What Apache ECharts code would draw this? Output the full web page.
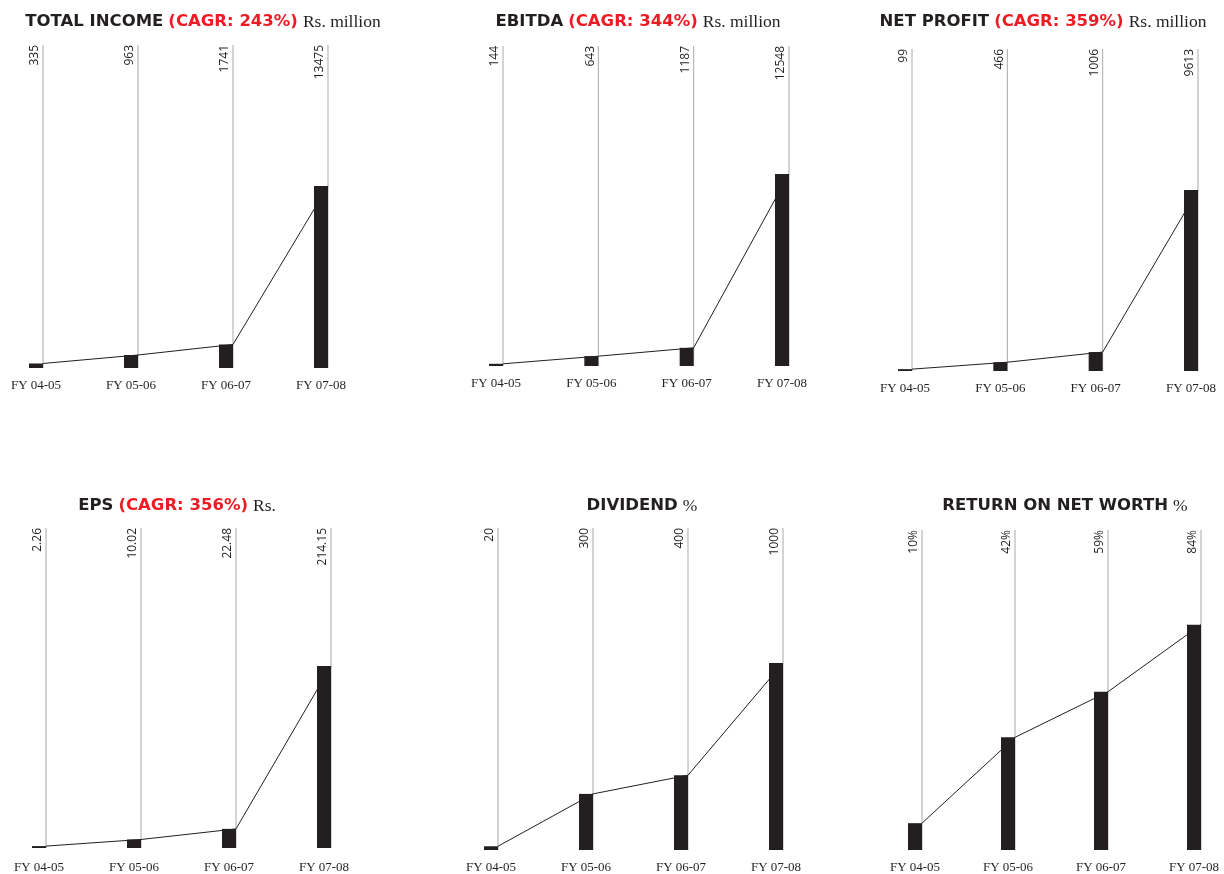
<!DOCTYPE html>
<html>
<head>
<meta charset="utf-8">
<script src="https://cdn.jsdelivr.net/npm/echarts@6/dist/echarts.min.js"></script>
<style>
html,body{margin:0;padding:0;background:#fff;}
#c{width:1224px;height:874px;}
</style>
</head>
<body>
<div id="c"></div>
<script>
// ---- data ----
const categories = ['FY 04-05', 'FY 05-06', 'FY 06-07', 'FY 07-08'];
const totalIncome = [335, 963, 1741, 13475];
const ebitda = [144, 643, 1187, 12548];
const netProfit = [99, 466, 1006, 9613];
const eps = [2.26, 10.02, 22.48, 214.15];
const dividend = [20, 300, 400, 1000];
const returnOnNetWorth = [10, 42, 59, 84];

const totalIncomeLabels = ['335', '963', '1741', '13475'];
const ebitdaLabels = ['144', '643', '1187', '12548'];
const netProfitLabels = ['99', '466', '1006', '9613'];
const epsLabels = ['2.26', '10.02', '22.48', '214.15'];
const dividendLabels = ['20', '300', '400', '1000'];
const returnOnNetWorthLabels = ['10%', '42%', '59%', '84%'];

const titleNames = ['TOTAL INCOME', 'EBITDA', 'NET PROFIT', 'EPS', 'DIVIDEND', 'RETURN ON NET WORTH'];
const titleCagr = ['(CAGR: 243%)', '(CAGR: 344%)', '(CAGR: 359%)', '(CAGR: 356%)', '', ''];
const titleUnits = ['Rs. million', 'Rs. million', 'Rs. million', 'Rs.', '%', '%'];

// ---- layout (positions / scale maxima) ----
const panels = [
  {values: totalIncome, labels: totalIncomeLabels, left: 43, top: 45, width: 285, height: 323, max: 23915, tx: 198, ty: 8, lm: 11},
  {values: ebitda, labels: ebitdaLabels, left: 503, top: 46, width: 286, height: 320, max: 20913, tx: 633, ty: 8, lm: 11},
  {values: netProfit, labels: netProfitLabels, left: 912, top: 49, width: 286, height: 322, max: 17100, tx: 1038, ty: 8, lm: 11},
  {values: eps, labels: epsLabels, left: 46, top: 528, width: 285, height: 320, max: 376.5, tx: 172, ty: 492, lm: 13},
  {values: dividend, labels: dividendLabels, left: 498, top: 528, width: 285, height: 322, max: 1722, tx: 637, ty: 492, lm: 11},
  {values: returnOnNetWorth, labels: returnOnNetWorthLabels, left: 922, top: 530, width: 279, height: 321, max: 119.3, tx: 1060, ty: 492, lm: 11}
];

const INK = '#231f20';
const RED = '#ed1c24';
const BAR_W = 14;

const option = {
  animation: false,
  backgroundColor: '#ffffff',
  title: [], grid: [], xAxis: [], yAxis: [], series: []
};

panels.forEach((p, k) => {
  const parts = ['{a|' + titleNames[k] + '}'];
  if (titleCagr[k]) parts.push('{b|' + titleCagr[k] + '}');
  parts.push('{c|' + titleUnits[k] + '}');
  option.title.push({
    text: parts.join(' '),
    left: p.tx, top: p.ty, textAlign: 'center',
    textStyle: {
      rich: {
        a: {fontFamily: 'DejaVu Sans', fontWeight: 'bold', fontSize: 16.5, color: INK},
        b: {fontFamily: 'DejaVu Sans', fontWeight: 'bold', fontSize: 16.5, color: RED},
        c: {fontFamily: 'Liberation Serif', fontWeight: 'normal', fontSize: 17.5, color: INK}
      }
    }
  });
  option.grid.push({left: p.left, top: p.top, width: p.width, height: p.height, containLabel: false});
  option.xAxis.push({
    type: 'category', gridIndex: k, data: categories, boundaryGap: false,
    axisLine: {show: false}, axisTick: {show: false}, splitLine: {show: false},
    axisLabel: {
      margin: p.lm, fontFamily: 'Liberation Serif', fontSize: 13, color: INK,
      padding: [0, BAR_W, 0, 0], interval: 0
    }
  });
  option.yAxis.push({type: 'value', gridIndex: k, min: 0, max: p.max, show: false});

  // gray guide lines with rotated value labels
  option.series.push({
    type: 'custom', xAxisIndex: k, yAxisIndex: k, z: 1, silent: true,
    data: p.values.map((v, i) => [i, v]),
    renderItem: function (params, api) {
      const base = api.coord([api.value(0), 0]);
      const cs = params.coordSys;
      const lbl = p.labels[params.dataIndex];
      return {
        type: 'group',
        children: [
          {type: 'line', shape: {x1: base[0], y1: cs.y, x2: base[0], y2: base[1]},
           style: {stroke: '#a7a9ac', lineWidth: 1}},
          {type: 'text', x: base[0] - 2, y: cs.y, rotation: Math.PI / 2,
           style: {text: lbl, fill: INK, font: '12px "Open Sans"', align: 'right', verticalAlign: 'bottom'}}
        ]
      };
    }
  });
  // bars
  option.series.push({
    type: 'bar', xAxisIndex: k, yAxisIndex: k, data: p.values, barWidth: BAR_W, barGap: 0,
    itemStyle: {color: INK}, clip: false, z: 2
  });
  // spacer so bar's right edge sits on the guide line
  option.series.push({
    type: 'bar', xAxisIndex: k, yAxisIndex: k, data: p.values.map(() => '-'), barWidth: BAR_W, barGap: 0,
    itemStyle: {color: 'transparent'}, clip: false, silent: true
  });
  // connecting line
  option.series.push({
    type: 'line', xAxisIndex: k, yAxisIndex: k, data: p.values, symbol: 'none',
    lineStyle: {color: INK, width: 1}, z: 3, clip: false
  });
});

const chart = echarts.init(document.getElementById('c'), null, {renderer: 'canvas'});
chart.setOption(option);
</script>
</body>
</html>
